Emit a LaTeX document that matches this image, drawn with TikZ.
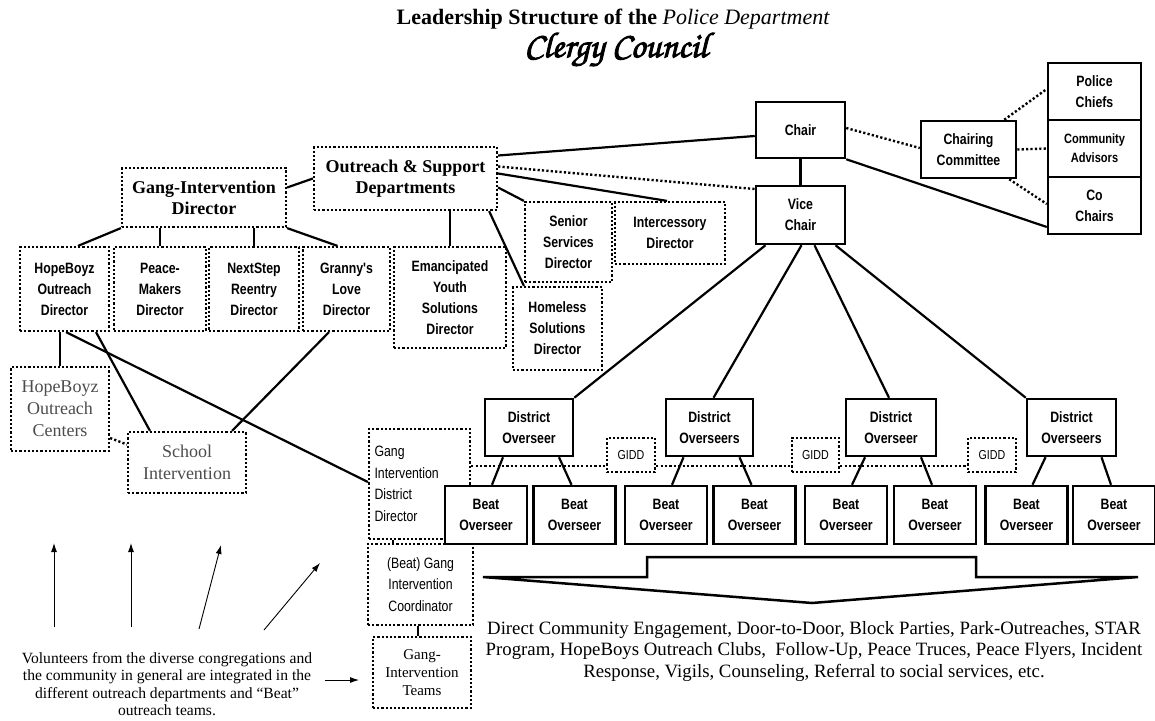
\documentclass[tikz,border=0pt]{standalone}
\usepackage{fontspec}
\setmainfont{Liberation Serif}
\newfontfamily\nar[FakeStretch=0.82]{Liberation Sans}
\usetikzlibrary{calc,arrows.meta}
\newcommand\nbf{\nar\bfseries\fontsize{15}{21}\selectfont}
\newcommand\nbs{\nar\bfseries\fontsize{13.5}{19}\selectfont}
\newcommand\nrf{\nar\fontsize{15}{21.5}\selectfont}
\newcommand\nrs{\nar\fontsize{13}{15}\selectfont}
\newcommand\tbf{\rmfamily\bfseries\fontsize{18}{21}\selectfont}
\newcommand\trf{\rmfamily\fontsize{18}{22}\selectfont}
\newcommand\trs{\rmfamily\fontsize{15}{18}\selectfont}
\definecolor{gtext}{gray}{0.3}
\begin{document}
\begin{tikzpicture}[x=1pt,y=-1pt,
  sbox/.style={draw, fill=white, line width=2.5pt, inner sep=0pt, align=center, font=\nbf},
  dbox/.style={draw, line width=2.2pt, dash pattern=on 2.2pt off 2pt, inner sep=0pt, align=center, font=\nbf},
  conn/.style={line width=2.2pt},
  dconn/.style={line width=2.4pt, dash pattern=on 2.2pt off 2.2pt},
  thinarr/.style={-{Latex[length=9pt,width=6pt]}, line width=0.9pt},
  bigarrow/.style={line width=2.5pt, line join=miter}]
\useasboundingbox (0,0) rectangle (1155,720);

% titles
\node[font=\fontsize{22}{26}\selectfont\bfseries] (title) at (613,19)
  {Leadership Structure of the {\mdseries\itshape Police Department}};
\node (clergy) at (616,50)
  {\fontencoding{OT1}\fontfamily{pzc}\fontseries{mb}\fontshape{it}\fontsize{36}{40}\selectfont
   \special{pdf:code 2 Tr 0.9 w}Clergy Council\special{pdf:code 0 Tr}};

% top right
\node[sbox, minimum width=89, minimum height=56] (chair) at (800.5,130) {Chair};
\node[sbox, minimum width=89, minimum height=58] (vc) at (800.5,215) {Vice\\Chair};
\node[sbox, minimum width=95, minimum height=57] (cc) at (968.5,149.5) {Chairing\\Committee};
\node[sbox, minimum width=93, minimum height=57] (pc) at (1094.5,91.5) {Police\\Chiefs};
\node[sbox, minimum width=93, minimum height=57, font=\nbs] (ca) at (1094.5,148.5) {Community\\Advisors};
\node[sbox, minimum width=93, minimum height=57] (coc) at (1094.5,205.5) {Co\\Chairs};

% departments
\node[dbox, minimum width=183, minimum height=63, font=\tbf] (os) at (405.5,178.5) {Outreach \& Support\\Departments};
\node[dbox, minimum width=164, minimum height=59, font=\tbf] (gid) at (204,197.5) {Gang-Intervention\\Director};

\node[dbox, minimum width=89, minimum height=84] (hb) at (64.5,289) {HopeBoyz\\Outreach\\Director};
\node[dbox, minimum width=92, minimum height=84] (pm) at (160,289) {Peace-\\Makers\\Director};
\node[dbox, minimum width=90, minimum height=84] (ns) at (254,289) {NextStep\\Reentry\\Director};
\node[dbox, minimum width=87, minimum height=84] (gl) at (346.5,289) {Granny's\\Love\\Director};
\node[dbox, minimum width=112, minimum height=101] (ey) at (450,297.5) {Emancipated\\Youth\\Solutions\\Director};
\node[dbox, minimum width=89, minimum height=83] (hs) at (557.5,328.5) {Homeless\\Solutions\\Director};
\node[dbox, minimum width=87, minimum height=80] (ss) at (568.5,242) {Senior\\Services\\Director};
\node[dbox, minimum width=110, minimum height=62] (id) at (670,233) {Intercessory\\Director};

\node[dbox, minimum width=98, minimum height=84, font=\trf, text=gtext] (hbc) at (60,409) {HopeBoyz\\Outreach\\Centers};
\node[dbox, minimum width=118, minimum height=61, font=\trf, text=gtext] (school) at (187,462.5) {School\\Intervention};

\node[dbox, minimum width=101, minimum height=110, font=\nrf, text width=90, align=left] (gidd) at (419.5,484) {Gang\\Intervention\\District\\Director};
\node[dbox, minimum width=105, minimum height=81, font=\nrf] (coord) at (420.5,584.5) {(Beat) Gang\\Intervention\\Coordinator};
\node[dbox, minimum width=98, minimum height=71, font=\trs] (teams) at (422,672.5) {Gang-\\Intervention\\Teams};

% district overseers
\node[sbox, minimum width=88, minimum height=57] (do1) at (529,427.5) {District\\Overseer};
\node[sbox, minimum width=87, minimum height=57] (do2) at (709.5,427.5) {District\\Overseers};
\node[sbox, minimum width=90, minimum height=57] (do3) at (891,427.5) {District\\Overseer};
\node[sbox, minimum width=89, minimum height=57] (do4) at (1071.5,427.5) {District\\Overseers};

\node[dbox, minimum width=48, minimum height=34, font=\nrs] (g1) at (631,455) {GIDD};
\node[dbox, minimum width=47, minimum height=34, font=\nrs] (g2) at (815.5,455) {GIDD};
\node[dbox, minimum width=48, minimum height=34, font=\nrs] (g3) at (992,455) {GIDD};

% texts
\node[font=\rmfamily\fontsize{18.8}{21.5}\selectfont, align=center] (direct) at (814,651)
  {Direct Community Engagement, Door-to-Door, Block Parties, Park-Outreaches, STAR\\
   Program, HopeBoys Outreach Clubs,\ \ Follow-Up, Peace Truces, Peace Flyers, Incident\\
   Response, Vigils, Counseling, Referral to social services, etc.};
\node[font=\rmfamily\fontsize{15.6}{17.5}\selectfont, align=center] (vol) at (167,684)
  {Volunteers from the diverse congregations and\\
   the community in general are integrated in the\\
   different outreach departments and ``Beat''\\
   outreach teams.};

% connectors top right
\draw[dconn] ($(chair.east)+(0,-2)$) -- ($(cc.west)+(0,-1.5)$);
\draw[conn] (chair.south) -- (vc.north);
\draw[conn] (chair.south east) -- ($(coc.west)+(0,21.5)$);
\draw[dconn] ($(cc.north east)+(-13,0)$) -- ($(pc.west)+(0,-2.5)$);
\draw[dconn] (cc.east) -- (ca.west);
\draw[dconn] ($(cc.south east)+(-8,0)$) -- ($(coc.west)+(0,-1.5)$);

% outreach connectors
\draw[conn] ($(os.east)+(0,-23)$) -- ($(chair.west)+(0,6)$);
\draw[dconn] ($(os.east)+(0,-12)$) -- ($(vc.west)+(0,-26)$);
\draw[conn] ($(os.east)+(0,-5)$) -- ($(id.north)+(-3,0)$);
\draw[conn] ($(os.east)+(0,9)$) -- (ss.north west);
\draw[conn] ($(os.south east)+(-9,0)$) -- ($(hs.north west)+(12,0)$);
\draw[conn] (ey.north) -- (ey.north |- os.south);
\draw[conn] (os.west) -- ($(gid.east)+(0,-10)$);

% gang-intervention director connectors
\draw[conn] (gid.south west) -- ($(hb.north)+(13.5,0)$);
\draw[conn] (pm.north) -- (pm.north |- gid.south);
\draw[conn] (ns.north) -- (ns.north |- gid.south);
\draw[conn] (gid.south east) -- ($(gl.north)+(-9,0)$);

% hopeboyz connectors
\draw[conn] (hbc.north) -- (hbc.north |- hb.south);
\draw[conn] ($(hb.south)+(31.5,0)$) -- ($(school.north)+(-37,0)$);
\draw[conn] ($(hb.south)+(1.5,0)$) -- ($(gidd.west)+(0,-2)$);
\draw[conn] ($(gl.south)+(-17.5,0)$) -- ($(school.north)+(45,0)$);
\draw[dconn] ($(hbc.east)+(0,29)$) -- ($(school.west)+(0,-18)$);

% GIDD line
\draw[dconn] ($(gidd.east)+(0,-18)$) -- ($(g1.west)+(0,11)$);
\draw[dconn] ($(g1.east)+(0,11)$) -- ($(g2.west)+(0,11)$);
\draw[dconn] ($(g2.east)+(0,11)$) -- ($(g3.west)+(0,11)$);
\draw[conn] ($(gidd.south)+(-26.5,0)$) -- ($(coord.north)+(-27.5,0)$);
\draw[conn] ($(coord.south)+(-2.5,0)$) -- ($(teams.north)+(-4,0)$);

% vice chair to district overseers
\draw[conn] ($(vc.south)+(-35,0)$) -- (do1.north east);
\draw[conn] ($(vc.south)+(1,0)$) -- ($(do2.north)+(4,0)$);
\draw[conn] ($(vc.south)+(14,0)$) -- ($(do3.north)+(-2,0)$);
\draw[conn] ($(vc.south)+(35,0)$) -- (do4.north west);

% beat overseers (drawn over the district-director box)
\foreach \n/\x in {b1/486,b2/574.5,b3/666,b4/754.5,b5/846,b6/935,b7/1026.5,b8/1114}
  \node[sbox, minimum width=82, minimum height=58] (\n) at (\x,515) {Beat\\Overseer};

% district to beat
\foreach \d/\a/\b in {do1/b1/b2,do2/b3/b4,do3/b5/b6,do4/b7/b8}{
  \draw[conn] ($(\d.south)+(-26,0)$) -- ($(\a.north)+(6,0)$);
  \draw[conn] ($(\d.south)+(30,0)$) -- ($(\b.north)+(-3,0)$);
}

% big arrow
\draw[bigarrow] (483,577) -- (647,577) -- (647,557) -- (976,557) -- (976,577) -- (1138,577) -- (812,603) -- cycle;

% volunteer arrows
\coordinate (a1s) at (54,627);  \coordinate (a1e) at (54,543);
\coordinate (a2s) at (131,627); \coordinate (a2e) at (131,543);
\coordinate (a3s) at (199,629); \coordinate (a3e) at (221,545);
\coordinate (a4s) at (264,630); \coordinate (a4e) at (320,563);
\coordinate (a5s) at (325,680); \coordinate (a5e) at (359,680);
\draw[thinarr] (a1s) -- (a1e);
\draw[thinarr] (a2s) -- (a2e);
\draw[thinarr] (a3s) -- (a3e);
\draw[thinarr] (a4s) -- (a4e);
\draw[thinarr] (a5s) -- (a5e);
\end{tikzpicture}
\end{document}
